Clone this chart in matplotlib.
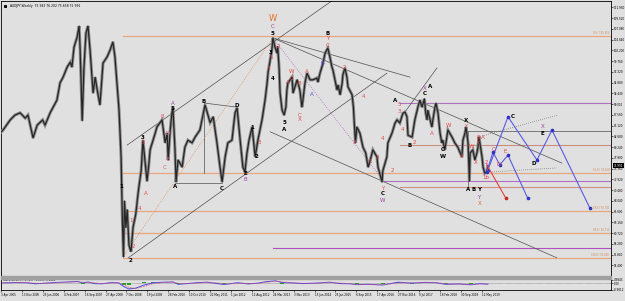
import matplotlib
matplotlib.use("Agg")
import matplotlib.pyplot as plt
import pandas as pd
from matplotlib.patches import Rectangle

# AUDJPY weekly (decimal year, price)
price_year = [2005.24, 2005.33, 2005.54, 2005.68, 2005.83, 2005.98, 2006.06, 2006.21, 2006.33, 2006.49,
              2006.56, 2006.71, 2006.80, 2006.91, 2007.00, 2007.09, 2007.21, 2007.30, 2007.35, 2007.41,
              2007.50, 2007.56, 2007.59, 2007.65, 2007.70, 2007.76, 2007.82, 2007.88, 2007.97, 2008.03,
              2008.09, 2008.17, 2008.26, 2008.38, 2008.47, 2008.55, 2008.61, 2008.67, 2008.73, 2008.79,
              2008.83, 2008.86, 2008.89, 2008.93, 2008.97, 2009.02, 2009.08, 2009.14, 2009.22, 2009.30,
              2009.38, 2009.43, 2009.55, 2009.60, 2009.64, 2009.79, 2009.84, 2009.99, 2010.08, 2010.14,
              2010.17, 2010.23, 2010.28, 2010.31, 2010.37, 2010.40, 2010.46, 2010.58, 2010.66, 2010.75,
              2010.87, 2010.96, 2011.10, 2011.25, 2011.40, 2011.49, 2011.60, 2011.69, 2011.75, 2011.84,
              2011.92, 2012.04, 2012.13, 2012.19, 2012.28, 2012.36, 2012.42, 2012.48, 2012.54, 2012.63,
              2012.72, 2012.80, 2012.92, 2013.01, 2013.07, 2013.10, 2013.16, 2013.21, 2013.24, 2013.30,
              2013.36, 2013.38, 2013.42, 2013.45, 2013.51, 2013.57, 2013.62, 2013.65, 2013.68, 2013.80,
              2013.83, 2013.95, 2014.03, 2014.09, 2014.12, 2014.18, 2014.24, 2014.33, 2014.41, 2014.53,
              2014.56, 2014.62, 2014.71, 2014.77, 2014.85, 2014.91, 2014.97, 2015.00, 2015.06, 2015.12,
              2015.15, 2015.21, 2015.27, 2015.29, 2015.35, 2015.41, 2015.44, 2015.56, 2015.60, 2015.62,
              2015.66, 2015.70, 2015.79, 2015.88, 2015.96, 2016.03, 2016.08, 2016.17, 2016.29, 2016.32,
              2016.44, 2016.46, 2016.58, 2016.61, 2016.73, 2016.82, 2016.88, 2016.96, 2017.05, 2017.11,
              2017.17, 2017.20, 2017.32, 2017.40, 2017.49, 2017.55, 2017.61, 2017.68, 2017.72, 2017.76,
              2017.78, 2017.90, 2017.93, 2017.99, 2018.02, 2018.08, 2018.14, 2018.19, 2018.22, 2018.28,
              2018.34, 2018.37, 2018.49, 2018.57, 2018.66, 2018.78, 2018.81, 2018.87, 2018.90, 2018.96,
              2019.00, 2019.02, 2019.10, 2019.16, 2019.22, 2019.25, 2019.28, 2019.37, 2019.40, 2019.45,
              2019.51, 2019.54]
price_value = [83.4, 84.1, 86.4, 87.5, 88.0, 86.8, 87.5, 82.3, 85.2, 86.4,
               85.2, 88.0, 89.3, 90.9, 94.8, 96.1, 98.4, 99.5, 98.4, 102.9,
               105.2, 107.7, 102.3, 86.2, 98.0, 106.1, 107.7, 102.3, 92.5, 96.1,
               93.2, 89.8, 99.3, 100.7, 102.3, 104.1, 100.7, 94.8, 88.6, 78.0,
               63.0, 55.3, 68.0, 62.0, 66.0, 58.0, 56.5, 62.0, 65.0, 70.5,
               75.0, 81.8, 72.5, 76.0, 79.6, 83.4, 84.8, 86.4, 81.2, 83.4,
               77.3, 84.1, 88.0, 89.1, 79.6, 72.3, 77.3, 75.7, 80.2, 81.8,
               81.2, 82.5, 84.1, 89.8, 85.8, 87.1, 81.2, 75.7, 72.3, 78.0,
               81.2, 81.8, 88.0, 89.1, 81.8, 75.7, 74.6, 78.9, 81.8, 84.8,
               78.0, 81.8, 86.4, 90.9, 94.8, 97.3, 100.0, 102.3, 105.0, 103.0,
               101.6, 103.0, 98.4, 92.5, 88.6, 87.5, 89.3, 93.2, 94.8, 96.1,
               92.5, 95.5, 93.2, 89.3, 90.9, 94.8, 97.0, 95.5, 95.5, 95.9,
               95.0, 97.0, 99.3, 101.6, 102.7, 100.7, 98.4, 97.7, 95.5, 93.2,
               94.3, 92.1, 94.8, 96.6, 98.2, 96.1, 93.9, 92.1, 89.3, 86.4,
               81.2, 84.8, 83.4, 80.2, 78.9, 75.7, 76.9, 79.6, 78.0, 75.7,
               72.3, 74.8, 78.0, 81.2, 83.4, 85.7, 86.4, 85.7, 87.9, 88.2,
               87.1, 82.9, 82.5, 86.4, 89.3, 90.9, 89.3, 91.2, 87.9, 86.4,
               88.6, 84.8, 86.4, 89.3, 90.2, 87.9, 83.4, 81.2, 81.8, 79.6,
               82.5, 84.1, 82.5, 81.2, 80.2, 78.0, 81.8, 83.4, 84.8, 81.2,
               72.5, 78.9, 79.6, 77.3, 78.9, 80.2, 82.5, 78.0, 75.7, 74.3,
               74.6, 75.9]

# MACD(12,26,9) sub window
macd_year = [2005.3, 2005.7, 2006.0, 2006.25, 2006.5, 2006.9, 2007.2, 2007.5, 2007.65, 2007.8,
             2008.0, 2008.2, 2008.5, 2008.7, 2008.85, 2009.0, 2009.2, 2009.45, 2009.7, 2010.0,
             2010.3, 2010.45, 2010.7, 2011.0, 2011.3, 2011.6, 2011.8, 2012.2, 2012.5, 2012.8,
             2013.0, 2013.3, 2013.5, 2013.8, 2014.1, 2014.5, 2014.9, 2015.2, 2015.5, 2015.7,
             2016.0, 2016.45, 2016.9, 2017.3, 2017.7, 2018.0, 2018.3, 2018.7, 2019.05, 2019.3, 2019.54]
macd_main = [0.5, 1.0, 0.8, -0.8, 0.0, 1.2, 1.8, 2.5, 0.5, 1.8,
             -0.5, -0.8, 1.0, 0.5, -4.5, -8.0, -7.0, -2.5, 0.5, 1.5,
             1.8, -1.5, -0.5, 0.8, 1.5, -0.5, -1.8, 0.8, -1.0, 0.2,
             2.0, 3.5, 1.0, 0.5, -0.5, 0.2, 1.5, -0.5, -0.8, -2.0,
             -1.5, -2.5, 1.5, 0.2, 1.2, 0.8, -1.5, -1.0, -2.2, -0.5, -1.3]
macd_signal = [0.3, 0.8, 0.9, 0.0, -0.3, 0.6, 1.5, 2.0, 1.5, 1.2,
               0.5, -0.5, 0.3, 0.7, -1.5, -5.5, -7.5, -4.5, -1.0, 1.0,
               1.6, 0.0, -0.8, 0.3, 1.2, 0.5, -1.0, 0.0, -0.3, -0.2,
               1.2, 2.8, 2.0, 0.6, 0.0, 0.0, 1.0, 0.3, -0.5, -1.5,
               -1.7, -2.0, 0.3, 0.6, 0.9, 1.0, -0.6, -1.2, -1.6, -1.0, -1.0]
macd_hist = [0.2, 0.2, -0.1, -0.8, 0.3, 0.6, 0.3, 0.5, -1.0, 0.6,
             -1.0, -0.3, 0.7, -0.2, -3.0, -2.5, 0.5, 2.0, 1.5, 0.5,
             0.2, -1.5, 0.3, 0.5, 0.3, -1.0, -0.8, 0.8, -0.7, 0.4,
             0.8, 0.7, -1.0, -0.1, -0.5, 0.2, 0.5, -0.8, -0.3, -0.5,
             0.2, -0.5, 1.2, -0.4, 0.3, -0.2, -0.9, 0.2, -0.6, 0.5, -0.3]

# fibo retracement 2008 low -> 2013 high
fib_price = [105.45, 74.35, 65.70, 60.70, 55.05]
fib_text = ["0.0 / 105.454", "61.8 / 74.358", "78.6 / 65.702", "88.6 / 60.712", "100.0 / 55.050"]

# other horizontal levels: price, start year, colour
level_price = [90.24, 80.70, 72.50, 71.20, 57.30]
level_start = [2016.96, 2016.96, 2016.46, 2016.96, 2013.24]
level_color = ["#b070c0", "#c89080", "#b070c0", "#d09080", "#b050c0"]

# trend lines (year0, price0, year1, price1)
trend_lines = [
    (2008.97, 80.7, 2015.00, 113.6),
    (2009.00, 55.1, 2016.58, 97.0),
    (2013.24, 105.0, 2021.71, 76.6),
    (2013.16, 83.7, 2021.56, 55.1),
    (2013.24, 105.0, 2017.26, 96.1),
    (2017.11, 88.2, 2018.05, 98.2),
    (2010.37, 72.1, 2011.75, 72.1),
    (2011.25, 90.2, 2012.19, 89.3),
    (2011.22, 90.2, 2011.22, 74.4),
    (2018.96, 83.9, 2018.96, 70.7),
    (2018.96, 83.9, 2023.15, 83.9),
]

# projections
blue_big_year = [2019.54, 2020.13, 2020.98, 2021.42, 2022.53]
blue_big_price = [75.0, 87.1, 77.3, 84.1, 66.4]
blue_small_year = [2019.51, 2019.69, 2019.89, 2020.13, 2020.71]
blue_small_price = [74.6, 79.1, 76.2, 78.4, 68.6]
red_year = [2019.51, 2020.07]
red_price = [76.2, 68.6]

# wave labels: text, year, price, colour
wave_labels = [
    ("W", 2013.24, 109.5, "#e07020"), ("C", 2013.24, 107.5, "#a040a0"), ("5", 2013.24, 106.1, "black"),
    ("3", 2013.18, 101.8, "black"), ("5", 2013.18, 100.5, "#e04848"), ("3", 2013.10, 98.0, "#e04848"),
    ("4", 2013.24, 95.7, "black"), ("2", 2013.39, 103.0, "#e04848"), ("A", 2013.68, 95.0, "#e04848"),
    ("W", 2013.80, 97.3, "#e04848"), ("C", 2013.80, 95.9, "#e04848"), ("B", 2014.00, 94.6, "#e04848"),
    ("A", 2014.24, 97.3, "#e04848"), ("A", 2014.39, 92.1, "#5050d8"), ("B", 2014.68, 99.3, "#5050d8"),
    ("B", 2014.85, 106.1, "black"), ("Y", 2014.85, 104.8, "#e04848"), ("C", 2014.85, 103.4, "#e04848"),
    ("2", 2015.35, 98.2, "#e04848"), ("4", 2015.88, 91.6, "#e04848"), ("5", 2013.57, 85.7, "black"),
    ("A", 2013.57, 84.3, "black"), ("C", 2014.03, 87.5, "#e04848"), ("X", 2014.03, 86.4, "#e04848"),
    ("3", 2015.64, 81.2, "#e04848"), ("1", 2016.08, 76.9, "#e04848"), ("3", 2016.29, 77.8, "#e04848"),
    ("4", 2016.46, 82.1, "#e04848"), ("2", 2016.73, 75.0, "#e04848"), ("Y", 2016.46, 70.9, "#e04848"),
    ("C", 2016.46, 69.6, "black"), ("W", 2016.46, 68.2, "#a040a0"), ("A", 2016.82, 90.7, "black"),
    ("5", 2016.94, 90.0, "#e04848"), ("3", 2016.94, 88.2, "#e04848"), ("4", 2017.05, 84.3, "#e04848"),
    ("B", 2017.26, 80.7, "black"), ("2", 2017.40, 81.2, "#e04848"), ("X", 2017.70, 93.6, "#a040a0"),
    ("A", 2017.85, 93.9, "black"), ("C", 2017.70, 92.5, "black"), ("A", 2017.90, 83.4, "#e04848"),
    ("C", 2018.22, 79.6, "black"), ("W", 2018.22, 78.2, "black"), ("W", 2018.40, 85.2, "#e04848"),
    ("X", 2018.78, 78.0, "#e04848"), ("X", 2018.90, 86.2, "black"), ("Y", 2018.90, 84.8, "#e04848"),
    ("W", 2019.07, 80.3, "#e04848"), ("X", 2019.19, 76.8, "#e04848"), ("B", 2019.25, 82.3, "#e04848"),
    ("A", 2019.40, 82.3, "#e04848"), ("Y", 2019.25, 81.2, "#e04848"), ("2", 2019.51, 76.8, "#e04848"),
    ("1b", 2019.48, 73.4, "#e04848"), ("C", 2019.72, 79.6, "#e04848"), ("D", 2019.86, 76.2, "#e04848"),
    ("E", 2020.04, 79.3, "#e04848"), ("C", 2020.27, 87.1, "black"), ("D", 2020.89, 76.6, "black"),
    ("X", 2021.15, 84.8, "#a040a0"), ("E", 2021.15, 83.4, "black"), ("A", 2018.96, 70.7, "black"),
    ("B", 2019.13, 70.7, "black"), ("Y", 2019.28, 70.7, "black"), ("Y", 2019.28, 68.9, "#a040a0"),
    ("X", 2019.31, 67.5, "#e07020"), ("3", 2009.43, 82.5, "black"), ("5", 2009.43, 81.2, "#e04848"),
    ("A", 2009.52, 69.8, "#e04848"), ("B", 2009.99, 87.1, "#e06080"), ("D", 2010.14, 83.4, "#e06080"),
    ("C", 2010.08, 75.7, "#e06080"), ("E", 2010.17, 77.5, "#e06080"), ("A", 2010.31, 90.2, "#a040a0"),
    ("5", 2010.31, 88.9, "black"), ("A", 2010.37, 71.2, "black"), ("B", 2011.22, 90.5, "black"),
    ("C", 2011.75, 70.9, "black"), ("D", 2012.19, 89.6, "black"), ("E", 2012.42, 74.3, "black"),
    ("B", 2012.42, 72.8, "#a040a0"), ("1", 2012.63, 84.6, "black"), ("2", 2012.75, 78.0, "black"),
    ("3", 2012.83, 81.2, "#e04848"), ("2", 2009.08, 54.6, "black"), ("1", 2008.79, 71.2, "black"),
    ("4", 2009.32, 66.2, "#e04848"), ("1", 2009.08, 63.5, "#e04848"), ("2", 2009.14, 57.6, "#e04848"),
]

price_ticks = [111.960, 109.520, 107.080, 104.640, 102.200, 99.760, 97.320, 94.880, 92.440, 90.000,
               87.560, 85.120, 82.680, 80.240, 77.800, 75.360, 72.920, 70.480, 68.040, 65.600,
               63.160, 60.720, 58.280, 55.840, 53.400]
date_ticks = ["3 Apr 2005", "13 Nov 2005", "25 Jun 2006", "4 Feb 2007", "16 Sep 2007", "27 Apr 2008",
              "7 Dec 2008", "19 Jul 2009", "28 Feb 2010", "10 Oct 2010", "22 May 2011", "1 Jan 2012",
              "12 Aug 2012", "24 Mar 2013", "3 Nov 2013", "15 Jun 2014", "25 Jan 2015", "6 Sep 2015",
              "17 Apr 2016", "27 Nov 2016", "9 Jul 2017", "18 Feb 2018", "30 Sep 2018", "12 May 2019"]
last_price = 75.991

BG = "#e0e0e0"
ORANGE = "#e8a87c"
XMIN, XMAX = 2005.27, 2023.15

fig = plt.figure(figsize=(6.25, 3.01), dpi=100, facecolor=BG)
ax = fig.add_axes([1 / 625, 25 / 301, 610 / 625, 275 / 301], facecolor=BG)
am = fig.add_axes([1 / 625, 11 / 301, 610 / 625, 11 / 301], facecolor=BG)
fig.patches.append(Rectangle((1 / 625, 22 / 301), 610 / 625, 3 / 301, transform=fig.transFigure,
                             color="#a0a0a0", zorder=5))

# levels
for p, t in zip(fib_price, fib_text):
    ax.plot([2008.86, XMAX], [p, p], color=ORANGE, lw=0.9, zorder=1)
    ax.text(XMAX - 0.05, p + 0.3, t, fontsize=1.8, color="#d08850", ha="right", va="bottom")
for p, s, c in zip(level_price, level_start, level_color):
    ax.plot([s, XMAX], [p, p], color=c, lw=0.8, zorder=1)

for x0, y0, x1, y1 in trend_lines:
    ax.plot([x0, x1], [y0, y1], color="#505050", lw=0.5, zorder=2)
ax.plot([2008.85, 2013.24], [55.3, 105.0], color="#e09060", lw=0.6, ls=(0, (1, 1.5)), zorder=2)
ax.plot([2013.24, 2016.46], [105.0, 72.8], color="#b070c0", lw=0.6, ls=(0, (1, 1.5)), zorder=2)
ax.plot([2019.25, 2021.59], [82.5, 87.5], color="#808080", lw=0.6, ls=(0, (1, 1.5)), zorder=2)
ax.plot([2019.66, 2021.56], [74.6, 75.5], color="#808080", lw=0.6, ls=(0, (1, 1.5)), zorder=2)

# weekly bars: gray high-low band with the dark close path on top
ax.plot(price_year, price_value, color="#8c8c8c", lw=2.2, zorder=3, solid_joinstyle="miter")
ax.plot(price_year, price_value, color="#262626", lw=0.9, zorder=3)

ax.plot(blue_big_year, blue_big_price, color="#5a5ae6", lw=0.8, zorder=4)
ax.plot(blue_big_year, blue_big_price, "o", color="#2f2fd0", ms=1.6, zorder=4)
ax.plot(blue_small_year, blue_small_price, color="#5a5ae6", lw=0.8, zorder=4)
ax.plot(blue_small_year, blue_small_price, "o", color="#2f2fd0", ms=1.6, zorder=4)
ax.plot(red_year, red_price, color="#e04040", lw=0.8, zorder=4)
ax.plot(red_year[1:], red_price[1:], "o", color="#d02020", ms=1.6, zorder=4)

for t, x, y, c in wave_labels:
    big = t == "W" and c == "#e07020"
    ax.text(x, y, t, color=c, fontsize=6 if big else 4.0, fontweight="bold" if c == "black" else "normal",
            ha="center", va="center", zorder=6)

ax.set_xlim(XMIN, XMAX)
ax.set_ylim(50.97, 113.39)
ax.set_xticks([])
ax.yaxis.tick_right()
ax.set_yticks(price_ticks)
ax.set_yticklabels([f"{v:.3f}" for v in price_ticks])
ax.tick_params(axis="y", labelsize=2.0, length=1.2, width=0.4, pad=0.6)
for sp in ax.spines.values():
    sp.set_linewidth(0.6)
ax.text(XMAX + 0.08, last_price, f"{last_price:.3f}", fontsize=2.0, color="white", va="center",
        ha="left", bbox=dict(boxstyle="square,pad=0.15", fc="black", ec="none"), clip_on=False, zorder=7)
ax.text(XMIN + 0.25, 112.3, "AUDJPY,Weekly  75.943 76.202 75.658 75.991", fontsize=2.2, va="center")
ax.plot([XMIN + 0.12], [112.3], "s", color="black", ms=1.2)

# macd
am.bar(macd_year, macd_hist, width=0.12, color="#20a020", zorder=2)
am.plot(macd_year, macd_main, color="#4a4ae8", lw=0.7, zorder=3)
am.plot(macd_year, macd_signal, color="#e05070", lw=0.6, ls=(0, (1, 1)), zorder=3)
am.axhline(0, color="#606060", lw=0.4, ls=(0, (1, 1)), zorder=1)
am.set_xlim(XMIN, XMAX)
am.set_ylim(-9.5, 6)
am.yaxis.tick_right()
am.set_yticks([4.9, 0, -8.9])
am.set_yticklabels(["4.9845", "0.00", "-8.9012"])
am.tick_params(axis="y", labelsize=2.0, length=1.2, width=0.4, pad=0.6)
am.text(XMIN + 0.05, 4.0, "MACD(12,26,9) -1.3057 -1.1653 -0.1404", fontsize=1.9, va="center")
tick_pos = [(d.year + (d.dayofyear - 1) / 365.25) for d in pd.to_datetime(date_ticks, format="%d %b %Y")]
am.set_xticks(tick_pos)
am.set_xticklabels(date_ticks, ha="left")
am.tick_params(axis="x", labelsize=2.0, length=1.2, width=0.4, pad=0.8)
for sp in am.spines.values():
    sp.set_linewidth(0.6)

fig.savefig("out.png", dpi=100, facecolor=BG)
